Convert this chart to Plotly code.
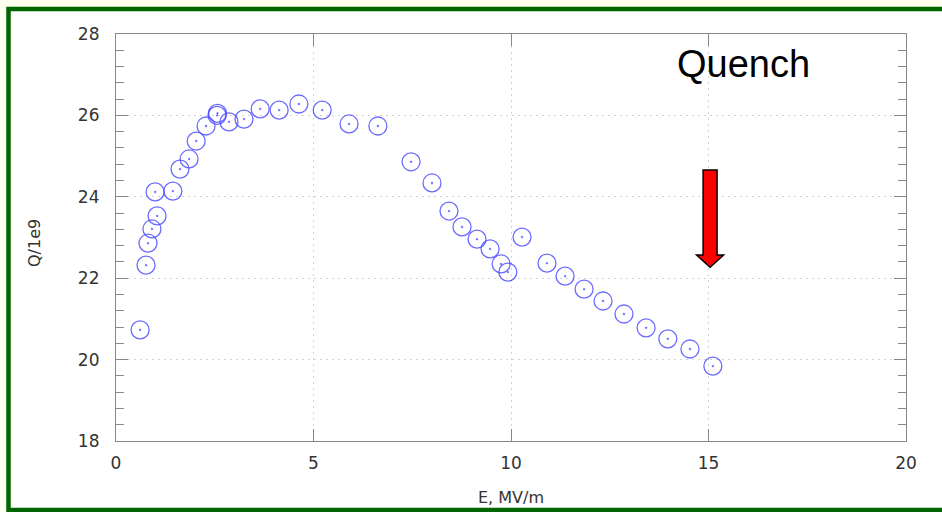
import plotly.graph_objects as go

# Data: E (MV/m) and Q/1e9
e_field = [0.61, 0.76, 0.81, 0.91, 1.04, 0.99, 1.44, 1.62, 1.85, 2.03, 2.28, 2.56, 2.57,
           2.86, 3.24, 3.65, 4.13, 4.63, 5.22, 5.90, 6.63, 7.47, 8.00, 8.43, 8.76,
           9.14, 9.47, 9.75, 9.92, 10.28, 10.91, 11.37, 11.85, 12.33, 12.86, 13.42,
           13.97, 14.53, 15.11]
q_value = [20.73, 22.32, 22.86, 23.21, 23.53, 24.12, 24.14, 24.68, 24.93, 25.37, 25.74,
           26.00, 26.05, 25.84, 25.91, 26.16, 26.13, 26.28, 26.13, 25.79, 25.74, 24.86,
           24.34, 23.65, 23.26, 22.96, 22.72, 22.35, 22.15, 23.01, 22.37, 22.05, 21.73,
           21.44, 21.12, 20.78, 20.51, 20.26, 19.84]

x_ticks = [0, 5, 10, 15, 20]
y_ticks = [18, 20, 22, 24, 26, 28]

# Quench arrow geometry (data units)
arrow_x = 15.04
arrow_top, arrow_head_base, arrow_tip = 24.66, 22.57, 22.27
shaft_hw, head_hw = 0.177, 0.342

fig = go.Figure()
fig.add_trace(go.Scatter(
    x=e_field, y=q_value, mode="markers",
    marker=dict(symbol="circle-open-dot", size=18,
                color="rgba(70,70,255,0.8)", line=dict(width=1.3, color="rgba(70,70,255,0.8)")),
    showlegend=False, cliponaxis=False,
))

path = (f"M {arrow_x-shaft_hw},{arrow_top} L {arrow_x+shaft_hw},{arrow_top} "
        f"L {arrow_x+shaft_hw},{arrow_head_base} L {arrow_x+head_hw},{arrow_head_base} "
        f"L {arrow_x},{arrow_tip} L {arrow_x-head_hw},{arrow_head_base} "
        f"L {arrow_x-shaft_hw},{arrow_head_base} Z")
fig.add_shape(type="path", path=path, xref="x", yref="y",
              fillcolor="#ff0000", line=dict(color="black", width=1.5))

# green frame
fig.add_shape(type="rect", xref="paper", yref="paper",
              x0=(8.5 - 116) / 790, x1=(960 - 116) / 790,
              y0=-(510 - 441) / 407, y1=1 + (34 - 9) / 407,
              fillcolor="white", line=dict(color="#006400", width=4.5), layer="below")

fig.add_annotation(text="Quench", xref="paper", yref="paper",
                   x=(743 - 116) / 790, y=1 - (64 - 34) / 407,
                   xanchor="center", yanchor="middle", showarrow=False,
                   font=dict(family="Liberation Sans", size=38, color="black"))
fig.add_annotation(text="Q/1e9", xref="paper", yref="paper",
                   x=(34 - 116) / 790, y=1 - (243 - 34) / 407, textangle=-90,
                   xanchor="center", yanchor="middle", showarrow=False,
                   font=dict(family="DejaVu Sans", size=16, color="#333"))
fig.add_annotation(text="E, MV/m", xref="paper", yref="paper",
                   x=(511 - 116) / 790, y=-(497 - 441) / 407,
                   xanchor="center", yanchor="middle", showarrow=False,
                   font=dict(family="DejaVu Sans", size=16, color="#333"))

axis_common = dict(
    showline=True, linecolor="#888", linewidth=1.2, mirror="ticks",
    ticks="inside", ticklen=12, tickcolor="#888", tickwidth=1,
    showgrid=True, gridcolor="#d4d4d4", griddash="2px,4px", gridwidth=1,
    zeroline=False, tickfont=dict(family="DejaVu Sans", size=17, color="#333"),
)
fig.update_xaxes(range=[0, 20], tickvals=x_ticks, ticklabelstandoff=6, **axis_common)
fig.update_yaxes(range=[18, 28], tickvals=y_ticks, ticklabelstandoff=12,
                 minor=dict(dtick=0.4, ticks="inside", ticklen=8, tickcolor="#888", showgrid=False),
                 **axis_common)

fig.update_layout(
    width=942, height=512,
    margin=dict(l=116, r=36, t=34, b=71),
    paper_bgcolor="#fffff0", plot_bgcolor="white",
)
fig.write_html("out.html")
